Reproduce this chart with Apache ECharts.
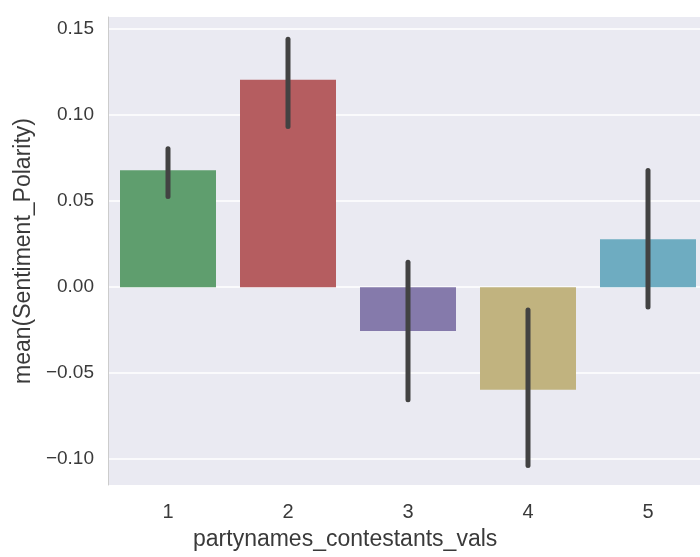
<!DOCTYPE html>
<html>
<head>
<meta charset="utf-8">
<script src="https://cdn.jsdelivr.net/npm/echarts@6/dist/echarts.min.js"></script>
<style>
  html, body { margin: 0; padding: 0; background: #fff; }
  #chart { width: 700px; height: 557px; }
</style>
</head>
<body>
<div id="chart"></div>
<script>
// party categories and mean sentiment with 95% CI
const categories = ["1", "2", "3", "4", "5"];
const means = [0.068, 0.1205, -0.0255, -0.0597, 0.0278];
const ciLow = [0.0527, 0.0933, -0.0655, -0.1037, -0.0116];
const ciHigh = [0.0805, 0.144, 0.0145, -0.0133, 0.0678];
const barColors = ["#5f9e6e", "#b55d60", "#857aab", "#c1b37f", "#6eacc1"];
const yTicks = [-0.10, -0.05, 0.00, 0.05, 0.10, 0.15];

const chart = echarts.init(document.getElementById("chart"));

const fontFamily = "Liberation Sans, Arial, sans-serif";

const option = {
  backgroundColor: "#ffffff",
  animation: false,
  grid: {
    left: 108,
    top: 17,
    width: 600,
    bottom: 72,
    outerBoundsMode: "none",
    show: true,
    backgroundColor: "#eaeaf2",
    borderWidth: 0,
  },
  xAxis: {
    type: "category",
    data: categories,
    axisLine: { show: false },
    axisTick: { show: false },
    axisLabel: { color: "#3a3a3a", fontSize: 20, fontFamily: fontFamily, margin: 17 },
    splitLine: { show: false },
  },
  yAxis: {
    type: "value",
    min: -0.115,
    max: 0.157,
    name: "mean(Sentiment_Polarity)",
    nameLocation: "middle",
    nameGap: 73,
    nameTextStyle: { color: "#3a3a3a", fontSize: 23, fontFamily: fontFamily },
    axisLine: { show: true, lineStyle: { color: "#cccccc", width: 1 } },
    axisTick: { show: false, customValues: yTicks },
    axisLabel: {
      customValues: yTicks,
      color: "#3a3a3a",
      fontSize: 19,
      fontFamily: fontFamily,
      margin: 14,
      formatter: function (v) {
        const s = Math.abs(v).toFixed(2);
        return v < -1e-9 ? "\u2212" + s : s;
      },
    },
    splitLine: { show: true, lineStyle: { color: "#ffffff", width: 1.5 } },
  },
  graphic: [
    {
      type: "text",
      left: 193,
      top: 528,
      style: {
        text: "partynames_contestants_vals",
        fill: "#3a3a3a",
        fontSize: 23,
        fontFamily: fontFamily,
      },
    },
  ],
  series: [
    {
      type: "bar",
      barWidth: "80%",
      data: means.map(function (v, i) {
        return { value: v, itemStyle: { color: barColors[i] } };
      }),
      z: 2,
    },
    {
      type: "custom",
      z: 3,
      data: categories.map(function (c, i) {
        return [i, ciLow[i], ciHigh[i]];
      }),
      renderItem: function (params, api) {
        const p1 = api.coord([api.value(0), api.value(1)]);
        const p2 = api.coord([api.value(0), api.value(2)]);
        return {
          type: "line",
          shape: { x1: p1[0], y1: p1[1], x2: p2[0], y2: p2[1] },
          style: { stroke: "#424242", lineWidth: 5, lineCap: "round" },
        };
      },
    },
  ],
};

chart.setOption(option);
</script>
</body>
</html>
